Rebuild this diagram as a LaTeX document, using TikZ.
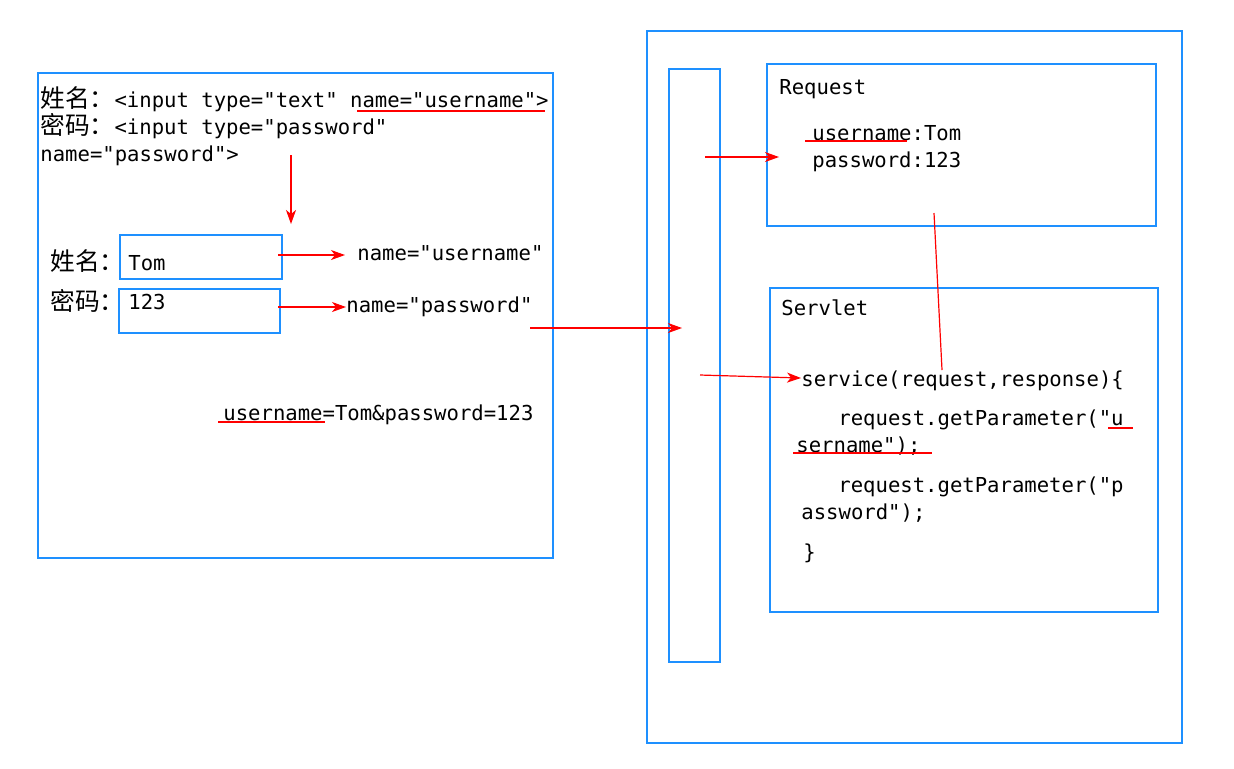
\documentclass[tikz,border=0pt]{standalone}
\usepackage{fontspec}
\setmonofont{DejaVu Sans Mono}
\newfontfamily\cjk{Noto Sans CJK SC}[Scale=1.2]
\usetikzlibrary{arrows.meta}
\definecolor{formblue}{RGB}{30,144,255}
\definecolor{markred}{RGB}{255,0,0}
\begin{document}
\begin{tikzpicture}[x=0.5pt,y=-0.5pt,
  frame/.style={draw=formblue,line width=1.15pt},
  code/.style={anchor=base west,inner sep=0pt,font=\ttfamily\fontsize{10.3}{12}\selectfont},
  flow/.style={draw=markred,line width=0.6pt,-{Stealth[length=7pt,width=5pt,inset=2pt]}},
  redline/.style={draw=markred,line width=0.6pt}]
\useasboundingbox (0,0) rectangle (1234,768);
% browser side: html form
\draw[frame] (38,73) rectangle (553,558);
\node[code] (htmlA) at (40,107) {{\cjk 姓名：}<input type="text" name="username">};
\node[code] (htmlB) at (40,134) {{\cjk 密码：}<input type="password"};
\node[code] (htmlC) at (40,161) {name="password">};
\draw[redline] (357,111) -- (545,111);
\coordinate (downA) at (291,155);
\coordinate (downB) at (291,224);
\draw[flow] (downA) -- (downB);
% input fields
\node[code] (lblUser) at (50,270) {\cjk 姓名：};
\draw[frame] (120,235) rectangle (282,279);
\node[code] (tom) at (128,270) {Tom};
\node[code] (lblPass) at (50,310) {\cjk 密码：};
\draw[frame] (119,289) rectangle (280,333);
\node[code] (pw) at (128,309) {123};
\coordinate (userOut) at (278,255);
\coordinate (passOut) at (278,307);
\node[code] (nameUser) at (357,260) {name="username"};
\node[code] (namePass) at (346,312) {name="password"};
\draw[flow] (userOut) -- ([xshift=-6pt]nameUser.west |- userOut);
\draw[flow] (passOut) -- (namePass.west |- passOut);
\node[code] (query) at (223,420) {username=Tom\&password=123};
\draw[redline] (218,422) -- (325,422);
% server side
\draw[frame] (647,31) rectangle (1182,743);
\draw[frame] (669,69) rectangle (720,662);
\coordinate (sendA) at (530,328);
\coordinate (sendB) at (682,328);
\draw[flow] (sendA) -- (sendB);
% request object
\draw[frame] (767,64) rectangle (1156,226);
\node[code] (reqTitle) at (779,94) {Request};
\node[code] (reqUser) at (812,140) {username:Tom};
\node[code] (reqPass) at (812,167) {password:123};
\draw[redline] (805,141) -- (907,141);
\coordinate (toReq) at (705,157);
\draw[flow] (toReq) -- (779,157);
% servlet
\draw[frame] (770,288) rectangle (1158,612);
\node[code] (srvTitle) at (781,315) {Servlet};
\node[code] (service) at (801,386) {service(request,response)\{};
\node[code] (getA) at (838,425) {request.getParameter("u};
\node[code] (getB) at (796,452) {sername");};
\node[code] (getC) at (838,492) {request.getParameter("p};
\node[code] (getD) at (801,519) {assword");};
\node[code] (close) at (803,559) {\}};
\draw[redline] (1108,428) -- (1133,428);
\draw[redline] (793,453) -- (932,453);
\coordinate (toSrv) at (700,375);
\draw[flow] (toSrv) -- (service.west |- 0,378);
\coordinate (reqLink) at (934,213);
\draw[redline] (reqLink) -- (942,370);
\end{tikzpicture}
\end{document}
